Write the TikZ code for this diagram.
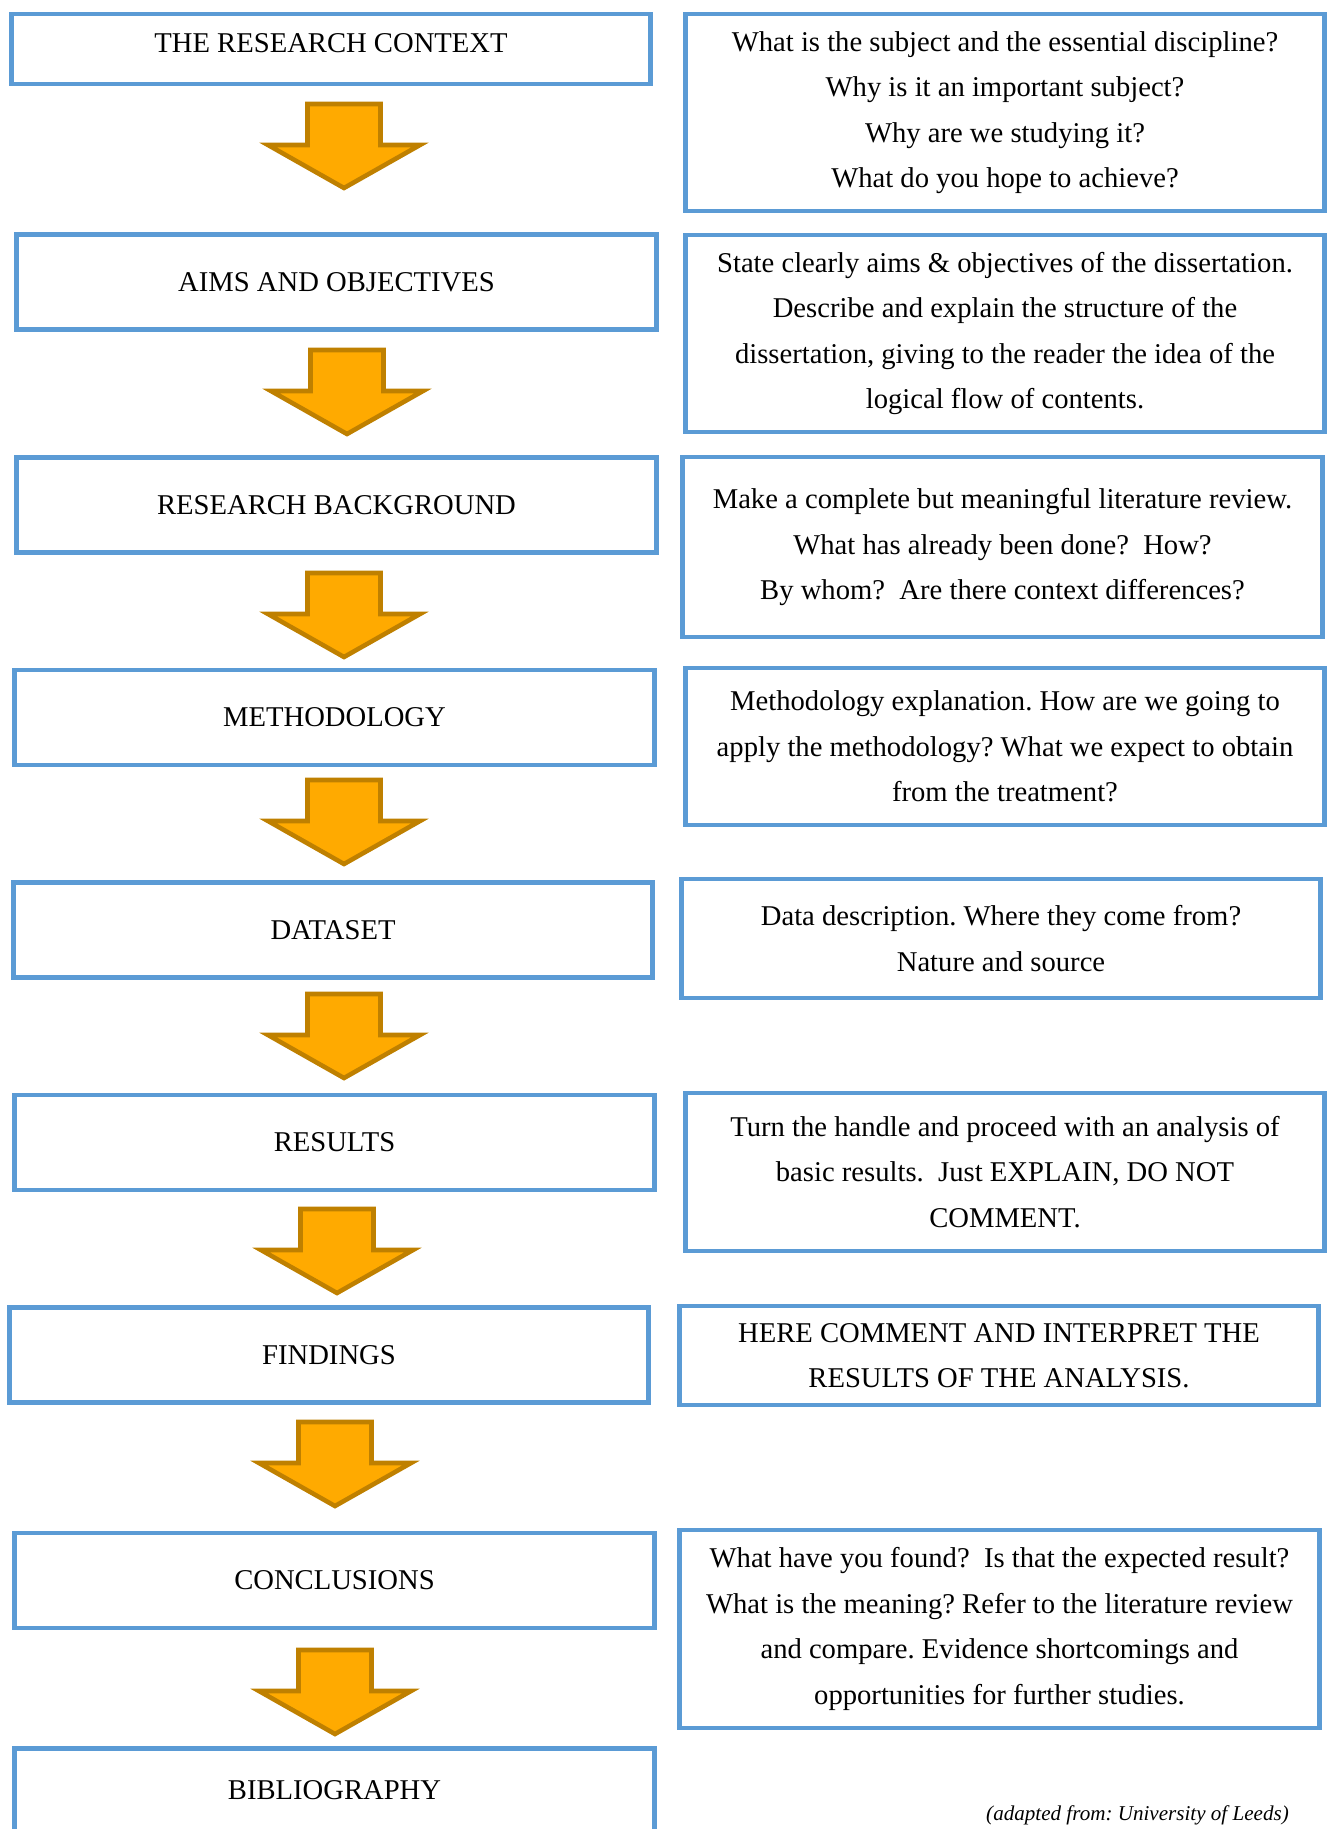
\documentclass[tikz,border=0pt]{standalone}
\usepackage{fontspec}
\setmainfont{Liberation Serif}
\frenchspacing
\usetikzlibrary{positioning}
\definecolor{boxblue}{RGB}{91,155,213}
\definecolor{arrfill}{RGB}{255,170,0}
\definecolor{arrline}{RGB}{191,128,0}
\tikzset{
  leftbox/.style={rectangle, draw=boxblue, line width=2.8pt, minimum width=12.8cm,
    minimum height=1.9cm, align=center, inner sep=0pt,
    font=\fontsize{16.3}{25.9}\selectfont},
  notebox/.style={rectangle, draw=boxblue, line width=2.8pt, minimum width=12.8cm,
    align=center, inner sep=0pt, font=\fontsize{16.3}{25.9}\selectfont},
  flowarrow/.pic={
    \draw[draw=arrline, fill=arrfill, line width=2.6pt, line join=miter]
      (-36.5,0) -- (36.5,0) -- (36.5,41) -- (76,41) -- (0,84)
      -- (-76,41) -- (-36.5,41) -- cycle;
  },
}
\begin{document}
\begin{tikzpicture}[x=0.02cm, y=-0.02cm]
\useasboundingbox (0,0) rectangle (1330,1829);
\clip (0,0) rectangle (1330,1829);

% Left column
\node[leftbox, minimum height=1.4cm, text depth=0.24cm] (context) at (331,49) {THE RESEARCH CONTEXT};
\node[leftbox] (aims) at (336.5,282) {AIMS AND OBJECTIVES};
\node[leftbox] (background) at (336.5,505) {RESEARCH BACKGROUND};
\node[leftbox] (method) at (334.5,717.5) {METHODOLOGY};
\node[leftbox] (dataset) at (333,930) {DATASET};
\node[leftbox] (results) at (334.5,1142.5) {RESULTS};
\node[leftbox] (findings) at (329,1355) {FINDINGS};
\node[leftbox] (concl) at (334.5,1580.5) {CONCLUSIONS};
\node[leftbox, minimum height=1.66cm] (biblio) at (334.5,1790) {BIBLIOGRAPHY};

% Right column
\node[notebox, minimum height=3.94cm] (contextnote) at (1005,112.5)
  {What is the subject and the essential discipline?\\Why is it an important subject?\\
   Why are we studying it?\\What do you hope to achieve?};
\node[notebox, minimum height=3.94cm] (aimsnote) at (1005,333.5)
  {State clearly aims \& objectives of the dissertation.\\Describe and explain the structure of the\\
   dissertation, giving to the reader the idea of the\\logical flow of contents.};
\node[notebox, minimum height=3.6cm] (backgroundnote) at (1002.5,547)
  {Make a complete but meaningful literature review.\\What has already been done?~~How?\\
   By whom?~~Are there context differences?};
\node[notebox, minimum height=3.14cm] (methodnote) at (1005,746.5)
  {Methodology explanation. How are we going to\\apply the methodology? What we expect to obtain\\
   from the treatment?};
\node[notebox, minimum height=2.38cm] (datasetnote) at (1001,938.5)
  {Data description. Where they come from?\\Nature and source};
\node[notebox, minimum height=3.16cm] (resultsnote) at (1005,1172)
  {Turn the handle and proceed with an analysis of\\basic results.~~Just EXPLAIN, DO NOT\\COMMENT.};
\node[notebox, minimum height=1.98cm] (findingsnote) at (999,1355.5)
  {HERE COMMENT AND INTERPRET THE\\RESULTS OF THE ANALYSIS.};
\node[notebox, minimum height=3.96cm] (conclnote) at (999.5,1629)
  {What have you found?~~Is that the expected result?\\What is the meaning? Refer to the literature review\\
   and compare. Evidence shortcomings and\\opportunities for further studies.};

% Block arrows between the steps
\pic at (344,104) {flowarrow};
\pic at (347,350) {flowarrow};
\pic at (344,573) {flowarrow};
\pic at (344,780) {flowarrow};
\pic at (344,994) {flowarrow};
\pic at (337,1209) {flowarrow};
\pic at (335,1422) {flowarrow};
\pic at (335,1650) {flowarrow};

\node[font=\fontsize{12}{14}\selectfont\itshape] (source) at (1137.5,1815)
  {(adapted from: University of Leeds)};

\end{tikzpicture}
\end{document}
